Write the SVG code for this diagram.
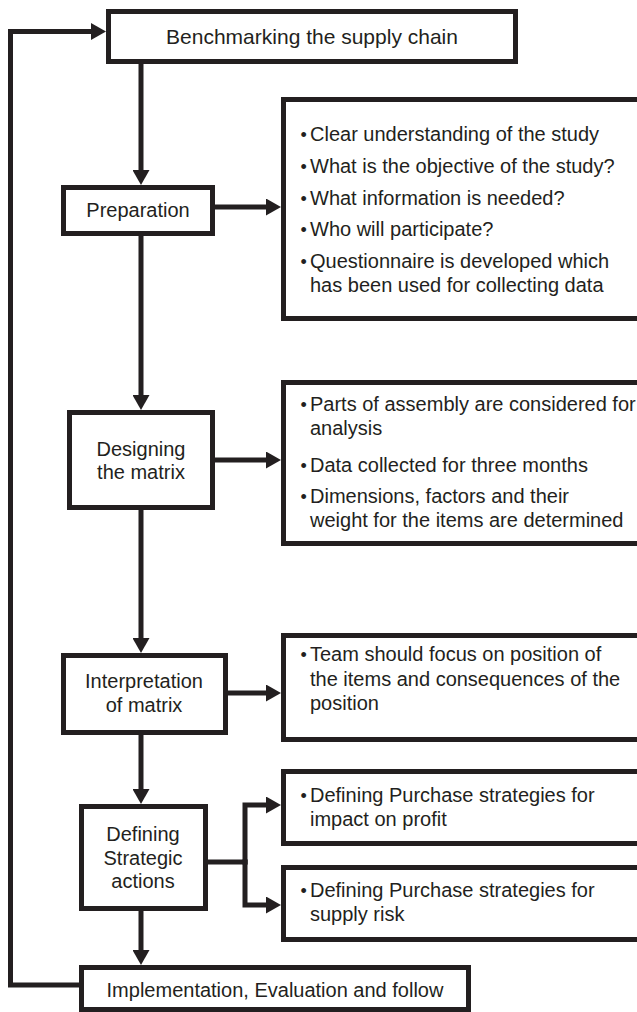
<svg xmlns="http://www.w3.org/2000/svg" width="637" height="1012" viewBox="0 0 637 1012">
<defs>
<style>
.box{fill:#fff;stroke:#231f20;stroke-width:5}
.ln{fill:none;stroke:#231f20;stroke-width:5;stroke-linejoin:miter;stroke-linecap:square}
.t{font-family:"Liberation Sans",Arial,Helvetica,sans-serif;font-size:20px;fill:#231f20}
.b{font-size:18px}
.c{text-anchor:middle}
</style>
<marker id="ah" markerUnits="userSpaceOnUse" markerWidth="16" markerHeight="17" viewBox="0 0 16 17" refX="0" refY="8.5" orient="auto">
<path d="M0,0 L15,8.5 L0,17 Z" fill="#231f20"/>
</marker>
</defs>
<rect width="637" height="1012" fill="#fff"/>
<g id="connectors">
<path class="ln" d="M81,985 L10.5,985 L10.5,31.5 L91,31.5" marker-end="url(#ah)"/>
<path class="ln" d="M141,64 L141,170" marker-end="url(#ah)"/>
<path class="ln" d="M215,207 L266,207" marker-end="url(#ah)"/>
<path class="ln" d="M141,236 L141,395" marker-end="url(#ah)"/>
<path class="ln" d="M215,460 L266,460" marker-end="url(#ah)"/>
<path class="ln" d="M141,510 L141,638" marker-end="url(#ah)"/>
<path class="ln" d="M228,693 L266,693" marker-end="url(#ah)"/>
<path class="ln" d="M141,735 L141,789" marker-end="url(#ah)"/>
<path class="ln" d="M208,862 L245,862"/>
<path class="ln" d="M245,862 L245,805 L266,805" marker-end="url(#ah)"/>
<path class="ln" d="M245,862 L245,905 L266,905" marker-end="url(#ah)"/>
<path class="ln" d="M141,911 L141,950" marker-end="url(#ah)"/>
</g>
<g id="n-benchmark">
<rect class="box" x="108.5" y="11.5" width="407" height="50"/>
<text class="t c" x="312" y="44" style="font-size:21px">Benchmarking the supply chain</text>
</g>
<g id="n-preparation">
<rect class="box" x="63.5" y="187.5" width="149" height="46"/>
<text class="t c" x="138" y="217">Preparation</text>
</g>
<g id="n-prep-notes">
<rect class="box" x="283.5" y="99.5" width="400" height="219"/>
<text class="t"><tspan class="b" x="300.5" y="141">•</tspan><tspan x="310">Clear understanding of the study</tspan></text>
<text class="t"><tspan class="b" x="300.5" y="173">•</tspan><tspan x="310">What is the objective of the study?</tspan></text>
<text class="t"><tspan class="b" x="300.5" y="205">•</tspan><tspan x="310">What information is needed?</tspan></text>
<text class="t"><tspan class="b" x="300.5" y="236">•</tspan><tspan x="310">Who will participate?</tspan></text>
<text class="t"><tspan class="b" x="300.5" y="268">•</tspan><tspan x="310">Questionnaire is developed which</tspan></text>
<text class="t" x="310" y="292">has been used for collecting data</text>
</g>
<g id="n-designing">
<rect class="box" x="69.5" y="412.5" width="143" height="95"/>
<text class="t c" x="141" y="456">Designing</text>
<text class="t c" x="141" y="479">the matrix</text>
</g>
<g id="n-design-notes">
<rect class="box" x="283.5" y="382.5" width="400" height="161"/>
<text class="t"><tspan class="b" x="300.5" y="411">•</tspan><tspan x="310">Parts of assembly are considered for</tspan></text>
<text class="t" x="310" y="435">analysis</text>
<text class="t"><tspan class="b" x="300.5" y="472">•</tspan><tspan x="310">Data collected for three months</tspan></text>
<text class="t"><tspan class="b" x="300.5" y="503">•</tspan><tspan x="310">Dimensions, factors and their</tspan></text>
<text class="t" x="310" y="527">weight for the items are determined</text>
</g>
<g id="n-interpretation">
<rect class="box" x="63.5" y="655.5" width="162" height="77"/>
<text class="t c" x="144" y="688">Interpretation</text>
<text class="t c" x="144" y="712">of matrix</text>
</g>
<g id="n-interp-notes">
<rect class="box" x="283.5" y="635.5" width="400" height="104"/>
<text class="t"><tspan class="b" x="300.5" y="661">•</tspan><tspan x="310">Team should focus on position of</tspan></text>
<text class="t" x="310" y="686">the items and consequences of the</text>
<text class="t" x="310" y="710">position</text>
</g>
<g id="n-defining">
<rect class="box" x="81.5" y="806.5" width="124" height="102"/>
<text class="t c" x="143" y="841">Defining</text>
<text class="t c" x="143" y="865">Strategic</text>
<text class="t c" x="143" y="888">actions</text>
</g>
<g id="n-profit">
<rect class="box" x="283.5" y="771.5" width="400" height="72"/>
<text class="t"><tspan class="b" x="300.5" y="802">•</tspan><tspan x="310">Defining Purchase strategies for</tspan></text>
<text class="t" x="310" y="826">impact on profit</text>
</g>
<g id="n-risk">
<rect class="box" x="283.5" y="867.5" width="400" height="72"/>
<text class="t"><tspan class="b" x="300.5" y="897">•</tspan><tspan x="310">Defining Purchase strategies for</tspan></text>
<text class="t" x="310" y="921">supply risk</text>
</g>
<g id="n-implementation">
<rect class="box" x="81.5" y="967.5" width="387" height="42"/>
<text class="t c" x="275" y="997">Implementation, Evaluation and follow</text>
</g>
</svg>
